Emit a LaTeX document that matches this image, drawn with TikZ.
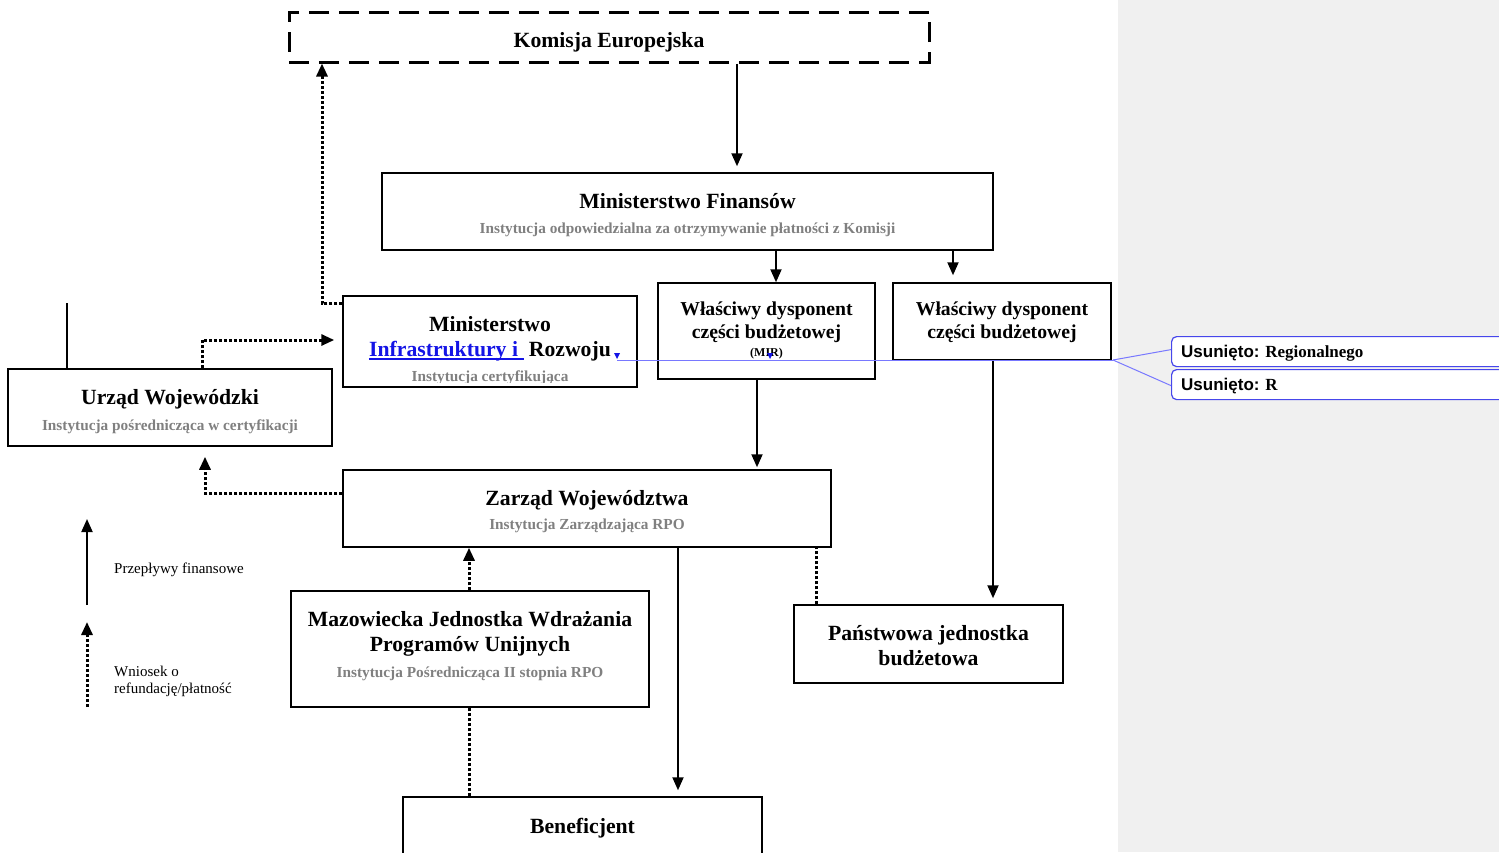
\documentclass[tikz,border=0pt]{standalone}
\usepackage{fontspec}
\setmainfont{Liberation Serif}
\newfontfamily\ussans{Liberation Sans}
\usetikzlibrary{arrows.meta}
\definecolor{subgray}{RGB}{128,128,128}
\definecolor{panelgray}{RGB}{240,240,240}
\definecolor{revblue}{RGB}{120,120,255}
\definecolor{balloonblue}{RGB}{70,70,235}
\definecolor{linkblue}{RGB}{20,20,230}
\begin{document}
\begin{tikzpicture}[x=1pt,y=-1pt,
  box/.style={draw, line width=1.5pt, inner sep=0pt},
  dashbox/.style={draw, line width=3pt, dash pattern=on 20pt off 10pt, inner sep=0pt},
  title/.style={anchor=base, inner sep=0pt, font=\bfseries\fontsize{21.7}{25}\selectfont},
  dtitle/.style={anchor=base, inner sep=0pt, font=\bfseries\fontsize{19.7}{23}\selectfont},
  sub/.style={anchor=base, inner sep=0pt, text=subgray, font=\bfseries\fontsize{15.3}{18}\selectfont},
  legtext/.style={anchor=base west, inner sep=0pt, font=\fontsize{15}{17}\selectfont},
  fin/.style={line width=2pt, -{Triangle[length=13pt,width=11pt]}},
  req/.style={line width=3pt, dash pattern=on 3pt off 2pt},
  reqa/.style={req, -{Triangle[length=13pt,width=11pt]}},
  balloon/.style={draw=balloonblue, line width=1.2pt, fill=white, rounded corners=5pt, inner sep=0pt, anchor=north west},
  baltext/.style={anchor=base west, inner sep=0pt, font=\bfseries\fontsize{17}{20}\selectfont},
  revline/.style={draw=revblue, line width=1pt},
  marker/.style={fill=linkblue}
]
\useasboundingbox (0,0) rectangle (1499,852);
\fill[white] (0,0) rectangle (1499,852);
\fill[panelgray] (1118,0) rectangle (1499,852);

% boxes
\node[dashbox, minimum width=640pt, minimum height=50pt] (ke) at (609,37) {};
\node[box, minimum width=611pt, minimum height=77pt] (mf) at (687.5,211.5) {};
\node[box, minimum width=294pt, minimum height=91pt] (mir) at (490,341.5) {};
\node[box, minimum width=217pt, minimum height=96pt] (d1) at (766.5,331) {};
\node[box, minimum width=218pt, minimum height=77pt] (d2) at (1002,321.5) {};
\node[box, minimum width=324pt, minimum height=77pt] (uw) at (170,407.5) {};
\node[box, minimum width=488pt, minimum height=77pt] (zw) at (587,508.5) {};
\node[box, minimum width=358pt, minimum height=116pt] (mj) at (470,649) {};
\node[box, minimum width=359pt, minimum height=83pt] (be) at (582.5,838.5) {};
\node[box, minimum width=269pt, minimum height=78pt] (pj) at (928.5,644) {};

% texts
\node[title] (ke-t) at (609,47) {Komisja Europejska};
\node[title] (mf-t) at (687.5,208) {Ministerstwo Finansów};
\node[sub] (mf-s) at (687.5,233) {Instytucja odpowiedzialna za otrzymywanie płatności z Komisji};
\node[title] (mir-t1) at (490,331) {Ministerstwo};
\node[title] (mir-t2) at (490,356) {\textcolor{linkblue}{Infrastruktury i\ }\ Rozwoju};
\draw[linkblue, line width=2pt] ([yshift=-3pt]mir-t2.base west) -- ++(155,0);
\begin{scope}
  \clip (343,296) rectangle (637,382);
  \node[sub] (mir-s) at (490,381) {Instytucja certyfikująca};
\end{scope}
\node[dtitle] (d1-t1) at (766.5,315) {Właściwy dysponent};
\node[dtitle] (d1-t2) at (766.5,338) {części budżetowej};
\node[anchor=base, inner sep=0pt, font=\bfseries\fontsize{12}{14}\selectfont] (d1-t3) at (766.5,356) {(MIR)};
\node[dtitle] (d2-t1) at (1002,315) {Właściwy dysponent};
\node[dtitle] (d2-t2) at (1002,338) {części budżetowej};
\node[title] (uw-t) at (170,404) {Urząd Wojewódzki};
\node[sub] (uw-s) at (170,430) {Instytucja pośrednicząca w certyfikacji};
\node[title] (zw-t) at (587,505) {Zarząd Województwa};
\node[sub] (zw-s) at (587,529) {Instytucja Zarządzająca RPO};
\node[title] (mj-t1) at (470,626) {Mazowiecka Jednostka Wdrażania};
\node[title] (mj-t2) at (470,651) {Programów Unijnych};
\node[sub] (mj-s) at (470,677) {Instytucja Pośrednicząca II stopnia RPO};
\node[title] (be-t) at (582.5,833) {Beneficjent};
\node[title] (pj-t1) at (928.5,640) {Państwowa jednostka};
\node[title] (pj-t2) at (928.5,665) {budżetowa};

% financial flows
\draw[fin, shorten >=6pt] ([xshift=128pt]ke.south) -- ([xshift=49.5pt]mf.north);
\draw[fin] ([xshift=88.5pt]mf.south) -- ([xshift=9.5pt]d1.north);
\draw[fin, shorten >=7pt] ([xshift=265.5pt]mf.south) -- ([xshift=-49pt]d2.north);
\draw[fin, shorten >=2pt] ([xshift=-9.5pt]d1.south) -- ([xshift=170pt]zw.north);
\draw[fin, shorten >=6pt] ([xshift=-9pt]d2.south) -- ([xshift=64.5pt]pj.north);
\draw[fin, shorten >=6pt] ([xshift=91pt]zw.south) -- ([xshift=95.5pt]be.north);
\coordinate (uwtop) at (67,303);
\draw[line width=2pt] ([xshift=-103pt]uw.north) -- (uwtop);

% requests
\draw[reqa] ([yshift=-8pt]mir.north west) -| ([xshift=-287pt]ke.south);
\draw[reqa, shorten >=8pt] ([xshift=32pt]uw.north) |- ([yshift=1.5pt]mir.west);
\draw[reqa, shorten >=10pt] ([yshift=15.5pt]zw.west) -| ([xshift=35pt]uw.south);
\draw[reqa] ([xshift=-1pt]mj.north) -- ([xshift=-118pt]zw.south);
\draw[req] ([xshift=-113.5pt]be.north) -- ([xshift=-1pt]mj.south);
\draw[req] ([xshift=-112.5pt]pj.north) -- ([xshift=229pt]zw.south);

% legend
\coordinate (l1a) at (87,605);
\coordinate (l1b) at (87,519);
\coordinate (l2a) at (87,707);
\coordinate (l2b) at (87,622);
\draw[fin] (l1a) -- (l1b);
\draw[reqa] (l2a) -- (l2b);
\node[legtext] (leg1) at (114,573) {Przepływy finansowe};
\node[legtext] (leg2a) at (114,676) {Wniosek o};
\node[legtext] (leg2b) at (114,693) {refundację/płatność};

% revision marks
\coordinate (rv1) at (617,360);
\coordinate (rv2) at (1113,360);
\node[balloon, minimum width=340pt, minimum height=30pt] (c1) at (1171,336) {};
\node[balloon, minimum width=340pt, minimum height=30pt] (c2) at (1171,369) {};
\draw[revline] (rv1) -- (rv2);
\draw[revline] (rv2) -- ([yshift=2pt]c1.west);
\draw[revline] (rv2) -- ([yshift=-1pt]c2.west);
\node[baltext] (c1-t) at (1181,357) {{\ussans\bfseries Usunięto:} Regionalnego};
\node[baltext] (c2-t) at (1181,390) {{\ussans\bfseries Usunięto:} R};
\fill[marker] (614,353) -- (620,353) -- (617,359) -- cycle;
\fill[marker] (767,353) -- (773,353) -- (770,359) -- cycle;
\end{tikzpicture}
\end{document}
